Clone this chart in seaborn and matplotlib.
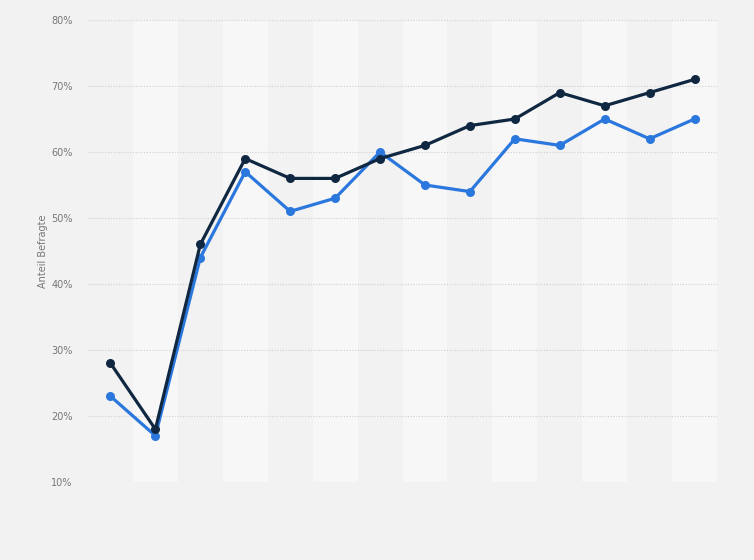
import numpy as np
import pandas as pd
import matplotlib
matplotlib.use('Agg')
import matplotlib.pyplot as plt
from matplotlib.ticker import FuncFormatter
import seaborn as sns

points = list(range(14))
series_dark = [28, 18, 46, 59, 56, 56, 59, 61, 64, 65, 69, 67, 69, 71]
series_blue = [23, 17, 44, 57, 51, 53, 60, 55, 54, 62, 61, 65, 62, 65]
y_ticks = [10, 20, 30, 40, 50, 60, 70, 80]

df = pd.DataFrame({
    'punkt': points * 2,
    'anteil': series_dark + series_blue,
    'reihe': ['dunkel'] * 14 + ['blau'] * 14,
})

sns.set_style('white')
plt.rcParams['font.family'] = ['DejaVu Sans']

fig = plt.figure(figsize=(7.54, 5.60), dpi=100, facecolor='#f2f2f2')
ax = fig.add_axes([88 / 754, 1 - 482 / 560, (717 - 88) / 754, (482 - 20) / 560])
ax.set_facecolor('#f2f2f2')

# alternating column bands
for i in points:
    if i % 2 == 1:
        ax.axvspan(i - 0.5, i + 0.5, color='#f7f7f7', zorder=0, lw=0)

for t in y_ticks:
    ax.axhline(t, color='#cfcfcf', lw=0.8, ls=(0, (1, 1.5)), zorder=1)

palette = {'dunkel': '#0f2741', 'blau': '#2a77dd'}
sns.lineplot(data=df, x='punkt', y='anteil', hue='reihe', hue_order=['blau', 'dunkel'],
             palette=palette, marker='o', markersize=6.5, markeredgewidth=0,
             linewidth=2.3, legend=False, ax=ax, zorder=3)

ax.set_xlim(-0.5, 13.5)
ax.set_ylim(10, 80)
ax.set_yticks(y_ticks)
ax.yaxis.set_major_formatter(FuncFormatter(lambda v, p: f'{int(v)}%'))
ax.set_xticks([])
ax.tick_params(axis='y', length=0, labelsize=7, labelcolor='#777777', pad=11)
ax.set_xlabel('')
ax.set_ylabel('Anteil Befragte', fontsize=7, color='#777777', labelpad=2)
for s in ax.spines.values():
    s.set_visible(False)

fig.savefig('out.png', dpi=100, facecolor=fig.get_facecolor())
